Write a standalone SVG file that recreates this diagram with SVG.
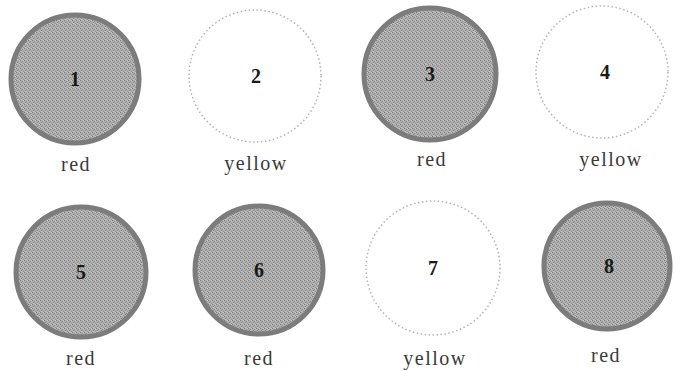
<svg xmlns="http://www.w3.org/2000/svg" width="675" height="371" viewBox="0 0 675 371">
<defs>
<pattern id="dither" width="4" height="4" patternUnits="userSpaceOnUse">
<rect width="4" height="4" fill="#b0b0b0"/>
<rect x="0" y="0" width="1" height="1" fill="#7a7a7a"/>
<rect x="2" y="1" width="1" height="1" fill="#8c8c8c"/>
<rect x="1" y="2" width="1" height="1" fill="#808080"/>
<rect x="3" y="3" width="1" height="1" fill="#909090"/>
<rect x="3" y="0" width="1" height="1" fill="#c8c8c8"/>
<rect x="1" y="3" width="1" height="1" fill="#c4c4c4"/>
</pattern>
</defs>
<style>
.red{fill:url(#dither);stroke:#7c7c7c;stroke-width:5}
.yel{fill:#ffffff;stroke:#b4b4b4;stroke-width:1.5;stroke-dasharray:1.5 2.5}
.num{font-family:"Liberation Serif",serif;font-weight:bold;font-size:20px;text-anchor:middle;fill:#1a1a1a}
.lbl{font-family:"Liberation Serif",serif;font-size:20px;text-anchor:middle;fill:#3a3a3a;letter-spacing:1.5px}
</style>
<rect width="675" height="371" fill="#ffffff"/>
<g id="node1"><circle class="red" cx="75" cy="79" r="64"/><text class="num" x="75" y="86">1</text><text class="lbl" x="76" y="171">red</text></g>
<g id="node2"><circle class="yel" cx="255" cy="76" r="66"/><text class="num" x="256" y="83">2</text><text class="lbl" x="256" y="170">yellow</text></g>
<g id="node3"><circle class="red" cx="430" cy="74" r="66"/><text class="num" x="430" y="81">3</text><text class="lbl" x="432" y="166">red</text></g>
<g id="node4"><circle class="yel" cx="602" cy="72" r="66"/><text class="num" x="605" y="79">4</text><text class="lbl" x="611" y="166">yellow</text></g>
<g id="node5"><circle class="red" cx="81" cy="272" r="65"/><text class="num" x="81" y="279">5</text><text class="lbl" x="81" y="365">red</text></g>
<g id="node6"><circle class="red" cx="259" cy="270" r="64"/><text class="num" x="259" y="277">6</text><text class="lbl" x="259" y="365">red</text></g>
<g id="node7"><circle class="yel" cx="433" cy="268" r="67"/><text class="num" x="433" y="275">7</text><text class="lbl" x="435" y="365">yellow</text></g>
<g id="node8"><circle class="red" cx="607" cy="266" r="63"/><text class="num" x="609" y="273">8</text><text class="lbl" x="606" y="362">red</text></g>
<g id="connectors"></g>
</svg>
